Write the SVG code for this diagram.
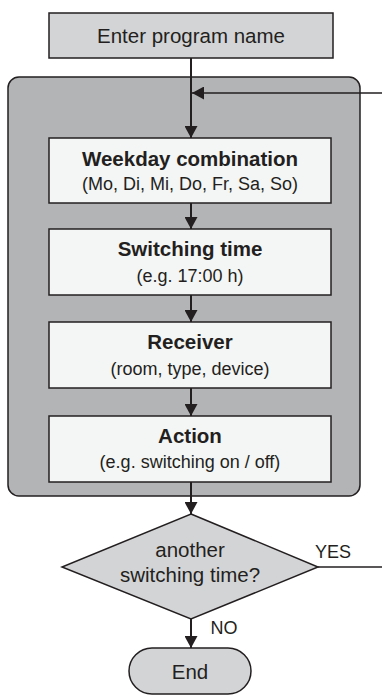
<svg xmlns="http://www.w3.org/2000/svg" width="382" height="695" viewBox="0 0 382 695">
<style>
text{font-family:"Liberation Sans",Arial,sans-serif;fill:#231f20;text-anchor:middle}
.t{font-weight:bold;font-size:20.5px}
.s{font-size:18px}
.box{fill:#f4f5f5;stroke:#231f20;stroke-width:1.5}
.gray{fill:#d3d4d6;stroke:#231f20;stroke-width:1.5}
.ln{stroke:#231f20;stroke-width:2;fill:none}
</style>
<defs>
<marker id="ah" viewBox="0 0 10 10" refX="10" refY="5" markerWidth="12" markerHeight="13" orient="auto" markerUnits="userSpaceOnUse" preserveAspectRatio="none">
<path d="M0,0L10,5L0,10Z" fill="#231f20"/>
</marker>
</defs>
<g id="loop">
<rect x="8" y="77" width="352" height="419" rx="11" fill="#b3b4b6" stroke="#231f20" stroke-width="1.5"/>
</g>
<g id="start">
<rect class="gray" x="49" y="13" width="284" height="45"/>
<text x="191" y="43" style="font-size:20.5px">Enter program name</text>
</g>
<g id="weekday">
<rect class="box" x="49" y="138" width="282" height="65"/>
<text class="t" x="190" y="166">Weekday combination</text>
<text class="s" x="190" y="190">(Mo, Di, Mi, Do, Fr, Sa, So)</text>
</g>
<g id="time">
<rect class="box" x="49" y="229" width="282" height="66"/>
<text class="t" x="190" y="256">Switching time</text>
<text class="s" x="190" y="282">(e.g. 17:00 h)</text>
</g>
<g id="receiver">
<rect class="box" x="49" y="322" width="282" height="66"/>
<text class="t" x="190" y="349">Receiver</text>
<text class="s" x="190" y="375">(room, type, device)</text>
</g>
<g id="action">
<rect class="box" x="49" y="416" width="282" height="66"/>
<text class="t" x="190" y="443">Action</text>
<text class="s" x="190" y="468">(e.g. switching on / off)</text>
</g>
<g id="decision">
<polygon class="gray" points="191,514 318,567 191,619 62,567"/>
<text x="190" y="557" style="font-size:20.5px">another</text>
<text x="190" y="582" style="font-size:20.5px">switching time?</text>
</g>
<g id="end">
<rect class="gray" x="129" y="648" width="122" height="46" rx="23"/>
<text x="190" y="679" style="font-size:20.5px">End</text>
</g>
<g id="connectors">
<line class="ln" x1="191" y1="58" x2="191" y2="138" marker-end="url(#ah)"/>
<line class="ln" x1="382" y1="93" x2="192" y2="93" marker-end="url(#ah)" style="stroke-width:1.5"/>
<line class="ln" x1="191" y1="203" x2="191" y2="229" marker-end="url(#ah)"/>
<line class="ln" x1="191" y1="295" x2="191" y2="322" marker-end="url(#ah)"/>
<line class="ln" x1="191" y1="388" x2="191" y2="416" marker-end="url(#ah)"/>
<line class="ln" x1="191" y1="482" x2="191" y2="514" marker-end="url(#ah)"/>
<line class="ln" x1="318" y1="567" x2="382" y2="567" style="stroke-width:1.5"/>
<line class="ln" x1="191" y1="619" x2="191" y2="648" marker-end="url(#ah)"/>
<text x="333" y="558" style="font-size:18px">YES</text>
<text x="224" y="634" style="font-size:18px">NO</text>
</g>
</svg>
